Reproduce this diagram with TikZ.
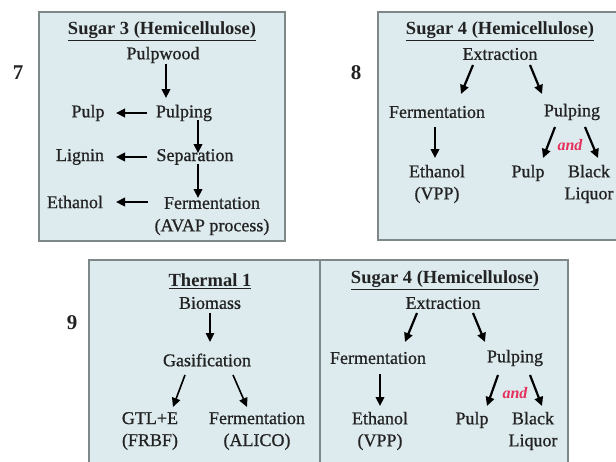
\documentclass[tikz,border=0pt]{standalone}
\usepackage{fontspec}
\setmainfont{Liberation Serif}
\newfontfamily\heavyserif[FakeBold=0.8]{Liberation Serif}
\usetikzlibrary{arrows.meta}
\definecolor{boxfill}{HTML}{DDEBEE}
\definecolor{boxline}{HTML}{7E8888}
\definecolor{andred}{HTML}{E5305C}
\definecolor{inktext}{HTML}{222222}
\tikzset{
  panel/.style={draw=boxline, line width=1.6pt, fill=boxfill},
  txt/.style={font=\heavyserif\fontsize{18}{22}\selectfont, text=inktext, inner sep=0pt, align=center},
  ttl/.style={font=\fontsize{18.5}{20}\selectfont\bfseries, text=inktext, inner sep=0pt},
  num/.style={font=\fontsize{21}{22}\selectfont\bfseries, text=inktext, inner sep=0pt},
  andlbl/.style={font=\fontsize{16}{17}\selectfont\bfseries\itshape, text=andred, inner sep=0pt},
  arr/.style={-{Triangle[length=9pt,width=8.5pt]}, line width=2.2pt},
}
\begin{document}
\begin{tikzpicture}[x=1pt,y=-1pt]
\clip (0,0) rectangle (616,461);
\useasboundingbox (0,0) rectangle (616,461);
% panels
\draw[panel] (39,12) rectangle (285,241);
\draw[panel] (378,12) rectangle (630,240);
\draw[panel] (89,260) rectangle (320,470);
\draw[panel] (320,260) rectangle (568,470);
% numbers
\node[num] (n7) at (18,73) {7};
\node[num] (n8) at (356,73) {8};
\node[num] (n9) at (72,323) {9};
% panel 7
\node[ttl] (t7) at (162,31) {\underline{Sugar 3 (Hemicellulose)}};
\node[txt] (pw) at (163,55) {Pulpwood};
\node[txt] (pg) at (184,113) {Pulping};
\node[txt] (pl) at (88,113) {Pulp};
\node[txt] (sp) at (195,157) {Separation};
\node[txt] (lg) at (80,157) {Lignin};
\node[txt] (fm) at (212,203) {Fermentation};
\node[txt] (av) at (212,227) {(AVAP process)};
\node[txt] (et) at (75,202) {Ethanol};
\coordinate (a1s) at (166,64); \coordinate (a1e) at (166,98);
\coordinate (a2s) at (198,120); \coordinate (a2e) at (198,153);
\coordinate (a3s) at (198,164); \coordinate (a3e) at (198,198);
\coordinate (h1s) at (147,113); \coordinate (h1e) at (116,113);
\coordinate (h2s) at (147,157); \coordinate (h2e) at (116,157);
\coordinate (h3s) at (148,202); \coordinate (h3e) at (116,202);
\foreach \s/\e in {a1s/a1e,a2s/a2e,a3s/a3e,h1s/h1e,h2s/h2e,h3s/h3e}
  \draw[arr] (\s) -- (\e);
% panel 8
\node[ttl] (t8) at (500,31) {\underline{Sugar 4 (Hemicellulose)}};
\node[txt] (ex8) at (500,54) {Extraction};
\node[txt] (fm8) at (437,112) {Fermentation};
\node[txt] (pg8) at (572,112) {Pulping};
\node[txt] (et8) at (437,184) {Ethanol\\(VPP)};
\node[txt] (pl8) at (528,173) {Pulp};
\node[txt] (bl8) at (589,184) {Black\\Liquor};
\node[andlbl] (and8) at (570,145) {and};
\coordinate (b1s) at (473,65); \coordinate (b1e) at (461,94);
\coordinate (b2s) at (530,65); \coordinate (b2e) at (542,94);
\coordinate (b3s) at (435,127); \coordinate (b3e) at (435,158);
\coordinate (b4s) at (555,127); \coordinate (b4e) at (543,158);
\coordinate (b5s) at (585,127); \coordinate (b5e) at (598,158);
\foreach \s/\e in {b1s/b1e,b2s/b2e,b3s/b3e,b4s/b4e,b5s/b5e}
  \draw[arr] (\s) -- (\e);
% panel 9 thermal
\node[ttl] (t9) at (210,281) {\underline{Thermal 1}};
\node[txt] (bm) at (210,303) {Biomass};
\node[txt] (gs) at (207,360) {Gasification};
\node[txt] (gt) at (150,431) {GTL+E\\(FRBF)};
\node[txt] (fa) at (257,431) {Fermentation\\(ALICO)};
\coordinate (c1s) at (210,313); \coordinate (c1e) at (210,342);
\coordinate (c2s) at (185,375); \coordinate (c2e) at (173,407);
\coordinate (c3s) at (233,375); \coordinate (c3e) at (247,407);
\foreach \s/\e in {c1s/c1e,c2s/c2e,c3s/c3e}
  \draw[arr,line width=1.6pt] (\s) -- (\e);
% panel 9 sugar 4
\node[ttl] (t9b) at (445,280) {\underline{Sugar 4 (Hemicellulose)}};
\node[txt] (ex9) at (443,303) {Extraction};
\node[txt] (fm9) at (378,358) {Fermentation};
\node[txt] (pg9) at (515,358) {Pulping};
\node[txt] (et9) at (380,431) {Ethanol\\(VPP)};
\node[txt] (pl9) at (472,420) {Pulp};
\node[txt] (bl9) at (533,431) {Black\\Liquor};
\node[andlbl] (and9) at (515,393) {and};
\coordinate (d1s) at (417,313); \coordinate (d1e) at (405,342);
\coordinate (d2s) at (473,313); \coordinate (d2e) at (485,342);
\coordinate (d3s) at (380,374); \coordinate (d3e) at (380,406);
\coordinate (d4s) at (498,375); \coordinate (d4e) at (487,406);
\coordinate (d5s) at (530,375); \coordinate (d5e) at (542,406);
\foreach \s/\e in {d1s/d1e,d2s/d2e,d3s/d3e,d4s/d4e,d5s/d5e}
  \draw[arr] (\s) -- (\e);
\end{tikzpicture}
\end{document}
